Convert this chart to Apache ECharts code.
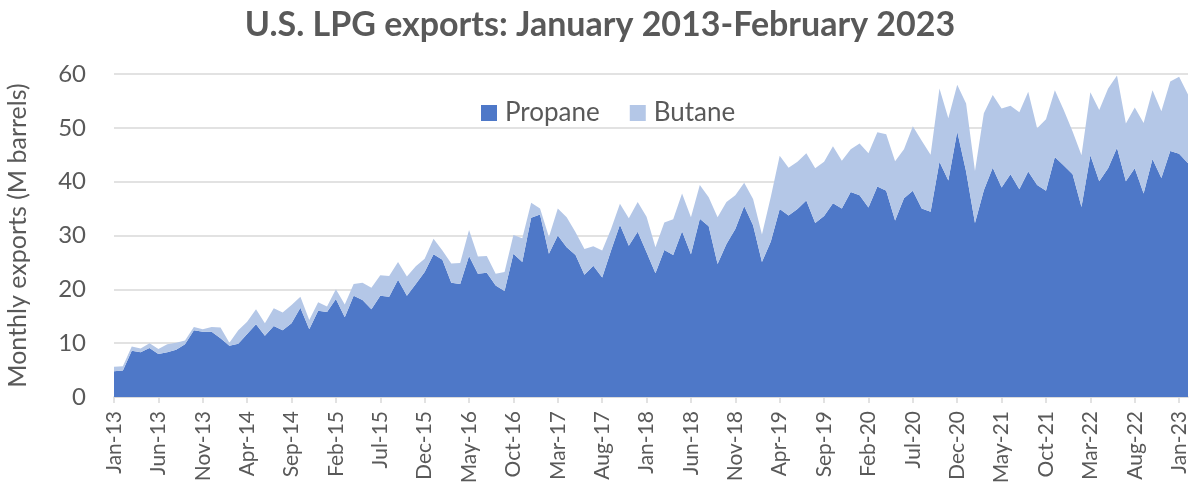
<!DOCTYPE html>
<html>
<head>
    <meta charset="utf-8">
    <title>U.S. LPG exports</title>
    <script type="text/javascript" src="https://cdn.jsdelivr.net/npm/echarts@6/dist/echarts.min.js"></script>
    <style>
        html, body { margin: 0; padding: 0; background: #fff; }
    </style>
</head>
<body>
<div id="main" style="width: 1200px;height:494px;"></div>
<script type="text/javascript">
    // month labels Jan-13 ... Feb-23
    var monthNames = ['Jan', 'Feb', 'Mar', 'Apr', 'May', 'Jun', 'Jul', 'Aug', 'Sep', 'Oct', 'Nov', 'Dec'];
    var months = [];
    for (var y = 13; y <= 23; y++) {
        for (var m = 0; m < 12; m++) {
            if (y === 23 && m > 1) break;
            months.push(monthNames[m] + '-' + y);
        }
    }

    // M barrels per month
    var propane = [
        4.8, 4.9, 8.6, 8.3, 9.1, 8.0, 8.3, 8.8, 9.8, 12.4,
        12.1, 12.1, 10.9, 9.5, 9.9, 11.7, 13.5, 11.4, 13.2, 12.4,
        13.7, 16.6, 12.6, 16.0, 15.8, 18.2, 14.8, 18.8, 18.0, 16.3,
        18.8, 18.6, 21.8, 18.8, 21.0, 23.2, 26.5, 25.5, 21.2, 21.0,
        26.2, 22.9, 23.1, 20.7, 19.7, 26.6, 25.1, 33.3, 33.9, 26.6,
        30.0, 27.8, 26.4, 22.7, 24.4, 22.2, 27.2, 32.0, 28.1, 30.7,
        26.9, 23.0, 27.3, 26.4, 30.8, 26.5, 33.1, 31.7, 24.7, 28.4,
        31.2, 35.5, 31.9, 25.1, 28.9, 34.9, 33.7, 34.9, 36.5, 32.3,
        33.6, 36.0, 35.0, 38.1, 37.5, 35.2, 39.1, 38.3, 32.8, 36.9,
        38.3, 35.0, 34.4, 43.7, 40.2, 49.3, 41.9, 32.3, 38.4, 42.6,
        38.9, 41.4, 38.6, 41.9, 39.4, 38.3, 44.6, 43.0, 41.4, 35.3,
        44.9, 40.1, 42.5, 46.3, 40.1, 42.5, 37.8, 44.2, 40.7, 45.7,
        45.2, 43.4
    ];
    var butane = [
        0.8, 0.8, 0.8, 0.7, 0.9, 0.9, 1.5, 1.3, 0.7, 0.6,
        0.5, 0.9, 2.0, 0.6, 2.5, 2.3, 2.8, 2.3, 3.3, 3.3,
        3.4, 2.0, 1.7, 1.6, 1.0, 1.8, 2.4, 2.2, 3.2, 4.0,
        3.8, 3.9, 3.3, 3.6, 3.3, 2.5, 2.9, 1.7, 3.6, 3.9,
        4.8, 3.2, 3.1, 2.2, 3.5, 3.5, 4.4, 2.8, 1.1, 3.1,
        5.0, 5.6, 4.2, 4.8, 3.6, 5.0, 4.0, 3.9, 5.1, 5.5,
        6.6, 4.8, 5.1, 6.6, 7.0, 6.9, 6.3, 5.4, 8.7, 7.8,
        6.3, 4.3, 4.9, 5.1, 8.3, 9.9, 8.9, 8.8, 8.8, 10.2,
        10.1, 10.6, 8.9, 7.9, 9.6, 10.1, 10.1, 10.5, 11.0, 9.1,
        12.0, 12.6, 10.6, 13.6, 11.6, 8.7, 12.6, 9.7, 14.3, 13.5,
        14.7, 12.7, 14.3, 14.8, 10.5, 13.3, 12.4, 10.3, 7.9, 9.6,
        11.7, 13.2, 14.8, 13.4, 10.7, 11.3, 13.1, 12.8, 12.4, 12.9,
        14.3, 12.8
    ];
    var yTicks = [0, 10, 20, 30, 40, 50, 60];

    var myChart = echarts.init(document.getElementById('main'), null, {renderer: 'canvas'});
    var textColor = '#595959';
    var font = 'Lato, "Open Sans", sans-serif';

    var option = {
        animation: false,
        title: {
            text: 'U.S. LPG exports: January 2013-February 2023',
            left: 'center',
            top: 3,
            textStyle: {color: textColor, fontSize: 34, fontWeight: 'bold', fontFamily: font}
        },
        legend: {
            data: ['Propane', 'Butane'],
            top: 95,
            left: 476,
            icon: 'rect',
            itemWidth: 16,
            itemHeight: 16,
            itemGap: 30,
            textStyle: {color: textColor, fontSize: 26, fontFamily: font, padding: [0, 0, 0, 3]}
        },
        grid: {left: 114, right: 12, top: 74, bottom: 97, containLabel: false, outerBoundsMode: 'none'},
        xAxis: {
            type: 'category',
            data: months,
            boundaryGap: false,
            axisLine: {lineStyle: {color: '#d9d9d9', width: 1.5}},
            axisTick: {show: true, interval: 4, length: 6, lineStyle: {color: '#d9d9d9', width: 1.5}},
            axisLabel: {
                interval: 4,
                rotate: 90,
                color: textColor,
                fontSize: 21,
                fontFamily: font,
                margin: 14
            }
        },
        yAxis: {
            type: 'value',
            min: yTicks[0],
            max: yTicks[yTicks.length - 1],
            interval: 10,
            name: 'Monthly exports (M barrels)',
            nameLocation: 'middle',
            nameGap: 84,
            nameTextStyle: {color: textColor, fontSize: 25, fontFamily: font},
            axisLine: {show: false},
            axisTick: {show: false},
            axisLabel: {color: textColor, fontSize: 24, fontFamily: font, margin: 28},
            splitLine: {lineStyle: {color: '#d9d9d9', width: 1.5}}
        },
        series: [{
            name: 'Propane',
            type: 'line',
            stack: 'lpg',
            data: propane,
            symbol: 'none',
            lineStyle: {width: 0},
            itemStyle: {color: '#4e78c8'},
            areaStyle: {color: '#4e78c8', opacity: 1}
        }, {
            name: 'Butane',
            type: 'line',
            stack: 'lpg',
            data: butane,
            symbol: 'none',
            lineStyle: {width: 0},
            itemStyle: {color: '#b4c7e7'},
            areaStyle: {color: '#b4c7e7', opacity: 1}
        }]
    };

    myChart.setOption(option);
</script>
</body>
</html>
